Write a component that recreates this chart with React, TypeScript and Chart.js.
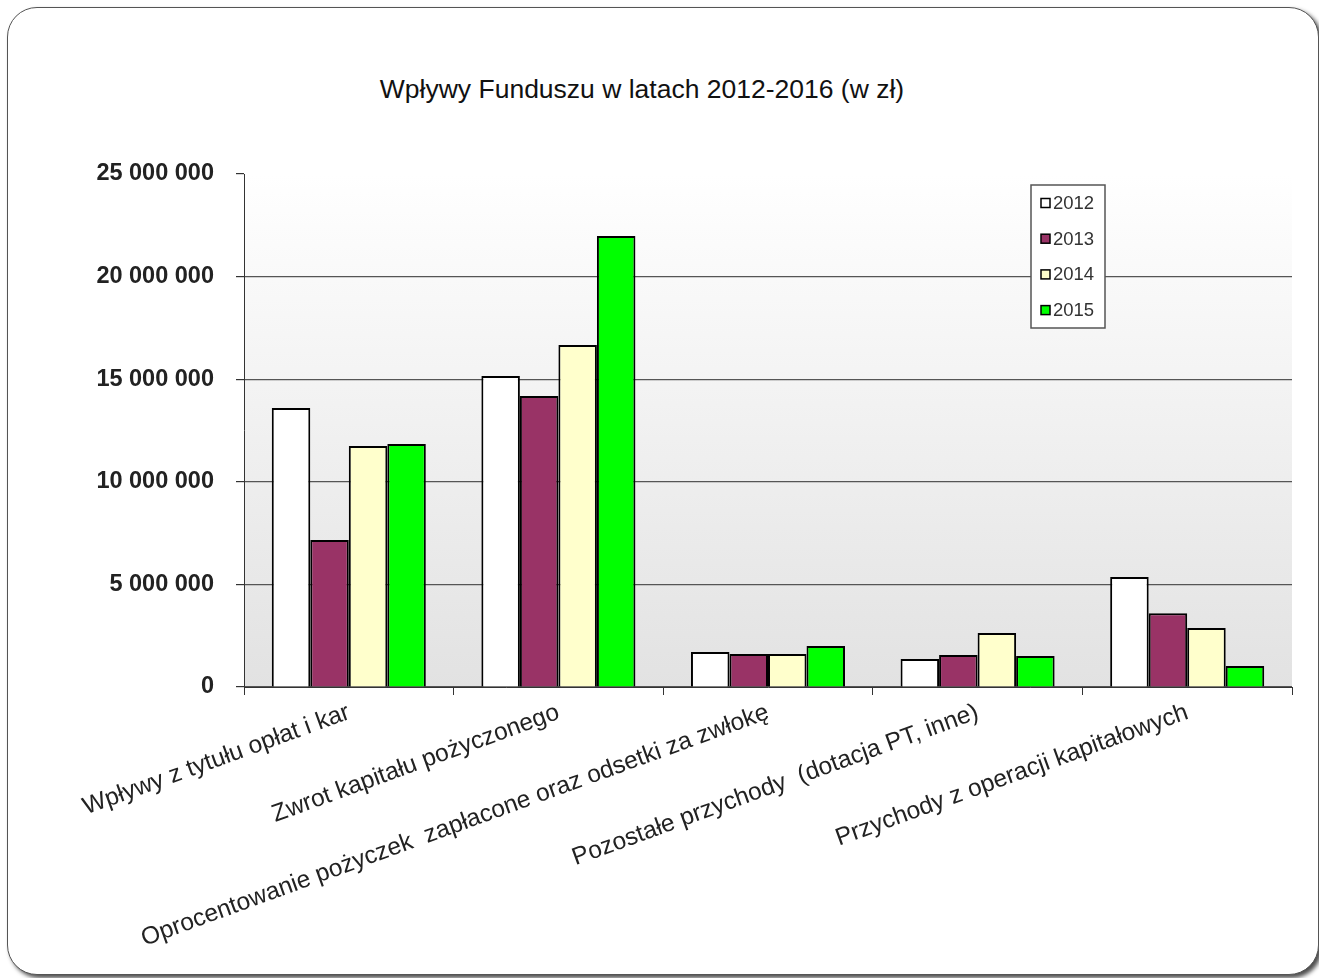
import React, { useEffect, useRef } from "react";
import { Chart, registerables } from "chart.js";

Chart.register(...registerables);

const categories = [
  "Wpływy z tytułu opłat i kar",
  "Zwrot kapitału pożyczonego",
  "Oprocentowanie pożyczek  zapłacone oraz odsetki za zwłokę",
  "Pozostałe przychody  (dotacja PT, inne)",
  "Przychody z operacji kapitałowych",
];

const seriesNames = ["2012", "2013", "2014", "2015"];
const values2012 = [13600000, 15160000, 1710000, 1360000, 5360000];
const values2013 = [7160000, 14180000, 1610000, 1560000, 3600000];
const values2014 = [11740000, 16670000, 1610000, 2630000, 2880000];
const values2015 = [11840000, 21980000, 2000000, 1510000, 1020000];
const seriesColors = ["#FFFFFF", "#993366", "#FFFFCC", "#00FF00"];

const yMax = 25000000;
const yStep = 5000000;
const titleText = "Wpływy Funduszu w latach 2012-2016 (w zł)";

const FONT = "'Liberation Sans', Arial, sans-serif";

const plotBackground = {
  id: "plotBackground",
  beforeDraw(chart: any) {
    const { ctx, chartArea } = chart;
    if (!chartArea) return;
    const g = ctx.createLinearGradient(0, chartArea.top, 0, chartArea.bottom);
    g.addColorStop(0, "#ffffff");
    g.addColorStop(1, "#e2e2e2");
    ctx.save();
    ctx.fillStyle = g;
    ctx.fillRect(chartArea.left, chartArea.top, chartArea.width, chartArea.height);
    ctx.restore();
  },
};

const boxedLegend = {
  id: "boxedLegend",
  afterDraw(chart: any) {
    const { ctx, chartArea } = chart;
    const bw = 74;
    const bh = 143;
    const x = chartArea.right - 187 - bw;
    const y = chartArea.top + 11;
    ctx.save();
    ctx.fillStyle = "#ffffff";
    ctx.fillRect(x, y, bw, bh);
    ctx.strokeStyle = "#555555";
    ctx.lineWidth = 1.5;
    ctx.strokeRect(x, y, bw, bh);
    ctx.font = `18.5px ${FONT}`;
    ctx.textBaseline = "middle";
    chart.data.datasets.forEach((ds: any, i: number) => {
      const cy = y + 18 + i * 35.7;
      ctx.fillStyle = ds.backgroundColor;
      ctx.fillRect(x + 10, cy - 4.5, 9, 9);
      ctx.strokeStyle = "#000";
      ctx.lineWidth = 1.5;
      ctx.strokeRect(x + 10, cy - 4.5, 9, 9);
      ctx.fillStyle = "#333";
      ctx.fillText(ds.label, x + 22, cy + 1);
    });
    ctx.restore();
  },
};

function formatTick(v: number) {
  return String(Math.round(v)).replace(/\B(?=(\d{3})+(?!\d))/g, " ");
}

function App() {
  const canvasRef = useRef<HTMLCanvasElement | null>(null);

  useEffect(() => {
    if (!canvasRef.current) return;
    const all = [values2012, values2013, values2014, values2015];
    const chart = new Chart(canvasRef.current, {
      type: "bar",
      data: {
        labels: categories,
        datasets: seriesNames.map((name, i) => ({
          label: name,
          data: all[i],
          backgroundColor: seriesColors[i],
          borderColor: "#000000",
          borderWidth: 2,
          categoryPercentage: 0.735,
          barPercentage: 1,
        })),
      },
      options: {
        animation: false,
        responsive: true,
        maintainAspectRatio: false,
        layout: { padding: { left: 0, right: 27, top: 174, bottom: 0 } },
        plugins: {
          legend: { display: false },
          title: { display: false },
          tooltip: { enabled: false },
        },
        scales: {
          x: {
            afterFit(scale: any) {
              scale.height = 291;
            },
            border: { color: "#333333", width: 1 },
            grid: {
              offset: true,
              drawOnChartArea: false,
              drawTicks: true,
              tickLength: 8,
              tickColor: "#333333",
            },
            ticks: {
              autoSkip: false,
              minRotation: 20,
              maxRotation: 20,
              color: "#222222",
              padding: 3,
              font: { family: FONT, size: 24.5 },
            },
          },
          y: {
            min: 0,
            max: yMax,
            afterFit(scale: any) {
              scale.width = 244;
            },
            border: { color: "#333333", width: 1 },
            grid: {
              color: (c: any) => (c.tick && c.tick.value === yMax ? "rgba(0,0,0,0)" : "#555555"),
              lineWidth: 1.2,
              drawTicks: true,
              tickLength: 8,
              tickColor: "#333333",
            },
            ticks: {
              stepSize: yStep,
              color: "#222222",
              padding: 22,
              font: { family: FONT, size: 23.5, weight: "bold" },
              callback: (v: any) => formatTick(Number(v)),
            },
          },
        },
      },
      plugins: [plotBackground, boxedLegend],
    } as any);
    return () => chart.destroy();
  }, []);

  return (
    <div
      style={{
        position: "fixed",
        left: 0,
        top: 0,
        width: 1319,
        height: 978,
        background: "#ffffff",
        overflow: "hidden",
      }}
    >
      <div
        style={{
          position: "absolute",
          left: 7,
          top: 7,
          width: 1312,
          height: 968,
          border: "1.5px solid #555",
          borderRadius: 30,
          boxShadow: "3px 3px 4px rgba(0,0,0,0.7)",
          boxSizing: "border-box",
          background: "#fff",
        }}
      />
      <div
        style={{
          position: "absolute",
          left: 0,
          top: 73,
          width: 1284,
          textAlign: "center",
          fontFamily: FONT,
          fontSize: 26.5,
          color: "#111",
          lineHeight: "32px",
        }}
      >
        {titleText}
      </div>
      <div style={{ position: "absolute", left: 0, top: 0, width: 1319, height: 978 }}>
        <canvas ref={canvasRef} />
      </div>
    </div>
  );
}

export default App;
